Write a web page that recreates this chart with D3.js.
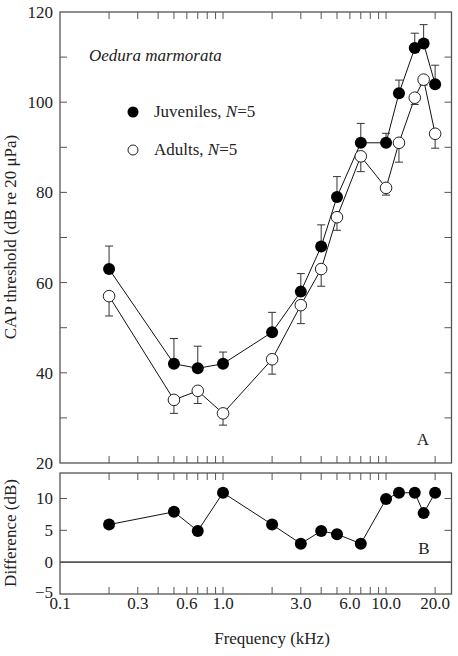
<!DOCTYPE html>
<html><head><meta charset="utf-8">
<script src="https://cdn.jsdelivr.net/npm/d3@7"></script>
<style>body{margin:0;background:#fff}svg{display:block}</style>
</head><body>
<svg id="c" width="458" height="656" font-family="'Liberation Serif', 'DejaVu Serif', serif"></svg>
<script>
const freqs = [0.2, 0.5, 0.7, 1.0, 2.0, 3.0, 4.0, 5.0, 7.0, 10.0, 12.0, 15.0, 17.0, 20.0];
const juveniles = [63, 42, 41, 42, 49, 58, 68, 79, 91, 91, 102, 112, 113, 104];
const juvUpper  = [68.1, 47.6, 45.9, 44.6, 53.4, 62.0, 72.8, 83.5, 95.3, 93.1, 104.9, 115.3, 117.2, 108.2];
const adults    = [57, 34, 36, 31, 43, 55, 63, 74.5, 88, 81, 91, 101, 105, 93];
const adultLower= [52.6, 31, 33.2, 28.4, 39.7, 50.9, 59.2, 71.6, 84.6, 79.4, 86.7, 99.5, 103.8, 89.8];
const difference= [5.9, 7.9, 4.9, 10.9, 5.9, 2.9, 4.9, 4.4, 2.9, 9.9, 10.9, 10.9, 7.7, 10.9];
const xTickLabels = [0.1, 0.3, 0.6, 1.0, 3.0, 6.0, 10.0, 20.0];
const xMinorTicks = [0.2,0.3,0.4,0.5,0.6,0.7,0.8,0.9,1,2,3,4,5,6,7,8,9,10,20];
const yTopLabels = [20, 40, 60, 80, 100, 120];
const yTopTicks = [30,40,50,60,70,80,90,100,110];
const yBotLabels = [-5, 0, 5, 10];
const yBotTicks = [5, 10];

const svg = d3.select("#c");
const L = 60, R = 451.5;
const x = d3.scaleLog().domain([0.1, 25.2]).range([L, R]);
const yT = d3.scaleLinear().domain([20, 120]).range([463, 12]);
const yB = d3.scaleLinear().domain([-5, 14]).range([594, 473]);
const axisCol = "#555";
const txtCol = "#222";
const TL = 7;

function panel(y, yTicks) {
  const [b, t] = y.range();
  svg.append("rect").attr("x", L).attr("y", t).attr("width", R - L).attr("height", b - t)
    .attr("fill", "none").attr("stroke", axisCol).attr("stroke-width", 1.3);
  const g = svg.append("g").attr("stroke", axisCol).attr("stroke-width", 1);
  xMinorTicks.forEach(v => {
    const xx = x(v);
    g.append("line").attr("x1", xx).attr("x2", xx).attr("y1", t).attr("y2", t + TL);
    g.append("line").attr("x1", xx).attr("x2", xx).attr("y1", b).attr("y2", b - TL);
  });
  yTicks.forEach(v => {
    const yy = y(v);
    g.append("line").attr("x1", L).attr("x2", L + TL).attr("y1", yy).attr("y2", yy);
    g.append("line").attr("x1", R).attr("x2", R - TL).attr("y1", yy).attr("y2", yy);
  });
}
panel(yT, yTopTicks);
panel(yB, yBotTicks);

const T = (sel) => sel.attr("fill", txtCol).attr("font-size", 17);

yTopLabels.forEach(v => T(svg.append("text")).attr("x", 53).attr("y", yT(v) + 6)
  .attr("text-anchor", "end").text(v));
yBotLabels.forEach(v => T(svg.append("text")).attr("x", 53).attr("y", yB(v) + (v < 0 ? 4 : 6))
  .attr("text-anchor", "end").text(v < 0 ? "\u2212" + Math.abs(v) : v));
xTickLabels.forEach(v => T(svg.append("text")).attr("x", x(v)).attr("y", 609)
  .attr("text-anchor", "middle").text(v.toFixed(1)));

svg.append("line").attr("x1", L).attr("x2", R).attr("y1", yB(0)).attr("y2", yB(0))
  .attr("stroke", axisCol).attr("stroke-width", 1.6);

T(svg.append("text")).attr("transform", "translate(16,237) rotate(-90)").attr("text-anchor", "middle")
  .text("CAP threshold (dB re 20 \u03bcPa)");
T(svg.append("text")).attr("transform", "translate(16,533) rotate(-90)").attr("text-anchor", "middle")
  .text("Difference (dB)");
T(svg.append("text")).attr("x", 272).attr("y", 644).attr("text-anchor", "middle").text("Frequency (kHz)");
T(svg.append("text")).attr("x", 89).attr("y", 61).attr("font-style", "italic").text("Oedura marmorata");
T(svg.append("text")).attr("x", 423).attr("y", 445).attr("text-anchor", "middle").text("A");
T(svg.append("text")).attr("x", 424).attr("y", 554).attr("text-anchor", "middle").text("B");

svg.append("circle").attr("cx", 133).attr("cy", 112).attr("r", 5.5).attr("fill", "#000");
svg.append("circle").attr("cx", 133).attr("cy", 150).attr("r", 5).attr("fill", "#fff").attr("stroke", "#222").attr("stroke-width", 1);
const l1 = T(svg.append("text")).attr("x", 154).attr("y", 117);
l1.append("tspan").text("Juveniles, ");
l1.append("tspan").attr("font-style", "italic").text("N");
l1.append("tspan").text("=5");
const l2 = T(svg.append("text")).attr("x", 154).attr("y", 155);
l2.append("tspan").text("Adults, ");
l2.append("tspan").attr("font-style", "italic").text("N");
l2.append("tspan").text("=5");

const line = (y) => d3.line().x(d => x(d[0])).y(d => y(d[1]));
const juvData = freqs.map((f, i) => [f, juveniles[i]]);
const adData = freqs.map((f, i) => [f, adults[i]]);
const diffData = freqs.map((f, i) => [f, difference[i]]);

svg.append("path").attr("d", line(yT)(juvData)).attr("fill", "none").attr("stroke", "#111").attr("stroke-width", 1);
svg.append("path").attr("d", line(yT)(adData)).attr("fill", "none").attr("stroke", "#111").attr("stroke-width", 1);
svg.append("path").attr("d", line(yB)(diffData)).attr("fill", "none").attr("stroke", "#111").attr("stroke-width", 1);

const eb = svg.append("g").attr("stroke", "#333").attr("stroke-width", 1);
freqs.forEach((f, i) => {
  const xx = x(f);
  eb.append("line").attr("x1", xx).attr("x2", xx).attr("y1", yT(juveniles[i])).attr("y2", yT(juvUpper[i]));
  eb.append("line").attr("x1", xx - 4).attr("x2", xx + 4).attr("y1", yT(juvUpper[i])).attr("y2", yT(juvUpper[i]));
  eb.append("line").attr("x1", xx).attr("x2", xx).attr("y1", yT(adults[i])).attr("y2", yT(adultLower[i]));
  eb.append("line").attr("x1", xx - 4).attr("x2", xx + 4).attr("y1", yT(adultLower[i])).attr("y2", yT(adultLower[i]));
});

svg.append("g").selectAll("circle").data(adData).join("circle")
  .attr("cx", d => x(d[0])).attr("cy", d => yT(d[1])).attr("r", 5.8)
  .attr("fill", "#fff").attr("stroke", "#222").attr("stroke-width", 1);
svg.append("g").selectAll("circle").data(juvData).join("circle")
  .attr("cx", d => x(d[0])).attr("cy", d => yT(d[1])).attr("r", 6).attr("fill", "#000");
svg.append("g").selectAll("circle").data(diffData).join("circle")
  .attr("cx", d => x(d[0])).attr("cy", d => yB(d[1])).attr("r", 6).attr("fill", "#000");
</script>
</body></html>
